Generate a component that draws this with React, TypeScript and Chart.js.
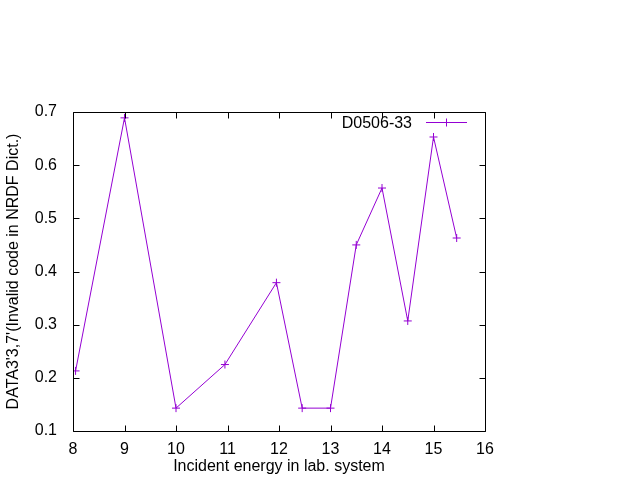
import React, { useEffect, useRef } from "react";
import { Chart, registerables } from "chart.js";

Chart.register(...registerables);

const seriesLabel = "D0506-33";
const energies = [8.05, 9.0, 10.0, 10.95, 11.95, 12.45, 13.0, 13.5, 14.0, 14.5, 15.0, 15.45];
const values = [0.213, 0.689, 0.143, 0.225, 0.379, 0.143, 0.143, 0.45, 0.557, 0.307, 0.653, 0.463];
const xTicks = [8, 9, 10, 11, 12, 13, 14, 15, 16];
const yTicks = [0.1, 0.2, 0.3, 0.4, 0.5, 0.6, 0.7];
const xTitle = "Incident energy in lab. system";
const yTitle = "DATA3'3,7'(Invalid code in NRDF Dict.)";

const COLOR = "#9400D3";
const FONT = "'Liberation Sans', Arial, sans-serif";
const FS = 16;

const framePlugin = {
  id: "gnuframe",
  afterDraw(chart: any) {
    const { ctx, chartArea: a, scales } = chart;
    const xs = scales.x;
    const ys = scales.y;
    ctx.save();
    ctx.strokeStyle = "#000";
    ctx.lineWidth = 1;
    ctx.beginPath();
    const L = Math.round(a.left) + 0.5;
    const R = Math.round(a.right) + 0.5;
    const T = Math.round(a.top) + 0.5;
    const B = Math.round(a.bottom) + 0.5;
    ctx.rect(L, T, R - L, B - T);
    const tl = 6;
    xTicks.forEach((v) => {
      const px = Math.round(xs.getPixelForValue(v)) + 0.5;
      ctx.moveTo(px, B);
      ctx.lineTo(px, B - tl);
      ctx.moveTo(px, T);
      ctx.lineTo(px, T + tl);
    });
    yTicks.forEach((v) => {
      const py = Math.round(ys.getPixelForValue(v)) + 0.5;
      ctx.moveTo(L, py);
      ctx.lineTo(L + tl, py);
      ctx.moveTo(R, py);
      ctx.lineTo(R - tl, py);
    });
    ctx.stroke();

    // legend
    const ly = 122.5;
    ctx.font = `${FS}px ${FONT}`;
    ctx.fillStyle = "#000";
    ctx.textAlign = "right";
    ctx.textBaseline = "alphabetic";
    ctx.fillText(seriesLabel, 412, 127.5);
    ctx.strokeStyle = COLOR;
    ctx.beginPath();
    ctx.moveTo(426, ly);
    ctx.lineTo(467, ly);
    ctx.moveTo(446.5, ly - 4);
    ctx.lineTo(446.5, ly + 4);
    ctx.moveTo(442.5, ly);
    ctx.lineTo(450.5, ly);
    ctx.stroke();
    ctx.restore();
  },
};

export default function App() {
  const ref = useRef<HTMLCanvasElement | null>(null);
  useEffect(() => {
    if (!ref.current) return;
    const chart = new Chart(ref.current, {
      type: "line",
      data: {
        datasets: [
          {
            label: seriesLabel,
            data: energies.map((x, i) => ({ x, y: values[i] })),
            borderColor: COLOR,
            backgroundColor: COLOR,
            borderWidth: 1,
            pointStyle: "cross",
            pointRadius: 4,
            pointBorderWidth: 1,
            pointBorderColor: COLOR,
            tension: 0,
            fill: false,
          },
        ],
      },
      options: {
        animation: false,
        responsive: false,
        layout: { padding: { top: 112, right: 155, left: 0, bottom: 0 } },
        plugins: { legend: { display: false }, tooltip: { enabled: false } },
        scales: {
          x: {
            type: "linear",
            min: 8,
            max: 16,
            afterFit: (s: any) => {
              s.height = 49;
            },
            afterBuildTicks: (s: any) => {
              s.ticks = xTicks.map((v) => ({ value: v }));
            },
            grid: { display: false },
            border: { display: false },
            ticks: {
              color: "#000",
              font: { family: FONT, size: FS },
              padding: 1,
              maxRotation: 0,
              callback: (v: any) => String(v),
            },
            title: {
              display: true,
              text: xTitle,
              color: "#000",
              font: { family: FONT, size: FS },
              padding: { top: 0, bottom: 4 },
            },
          },
          y: {
            type: "linear",
            min: 0.1,
            max: 0.7,
            afterFit: (s: any) => {
              s.width = 73;
            },
            afterBuildTicks: (s: any) => {
              s.ticks = yTicks.map((v) => ({ value: v }));
            },
            grid: { display: false },
            border: { display: false },
            ticks: {
              color: "#000",
              font: { family: FONT, size: FS },
              padding: 8,
              callback: (v: any) => Number(v).toFixed(1),
            },
            title: {
              display: true,
              text: yTitle,
              color: "#000",
              font: { family: FONT, size: FS },
              padding: { top: 4, bottom: 0 },
            },
          },
        },
      },
      plugins: [framePlugin],
    });
    return () => chart.destroy();
  }, []);
  return (
    <div style={{ position: "fixed", left: 0, top: 0, width: 640, height: 480, background: "#fff" }}>
      <canvas ref={ref} width={640} height={480} />
    </div>
  );
}
